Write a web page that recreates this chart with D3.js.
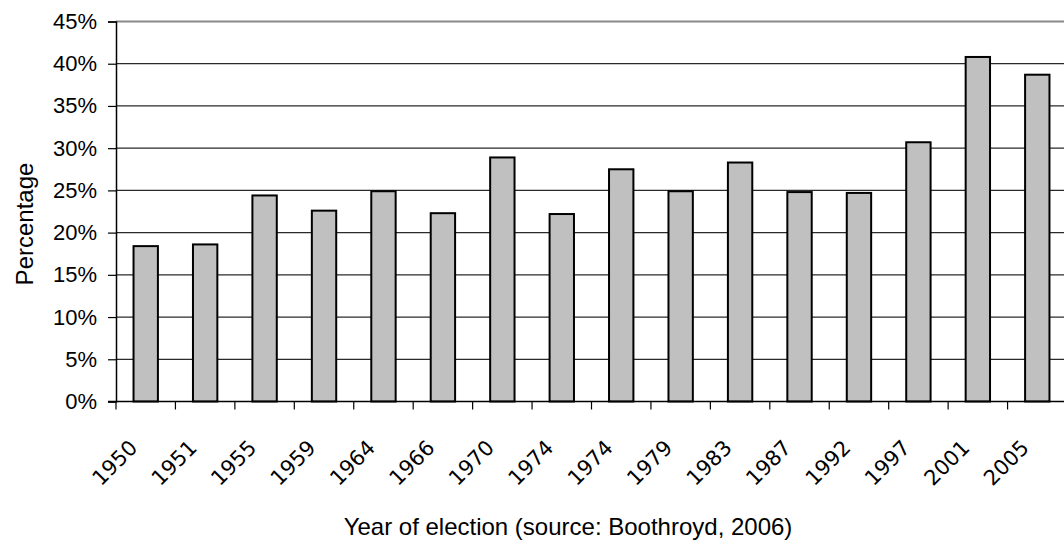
<!DOCTYPE html>
<html>
<head>
<meta charset="utf-8">
<script src="https://cdn.jsdelivr.net/npm/d3@7"></script>
<style>
  html, body { margin: 0; padding: 0; background: #fff; }
  svg { display: block; }
</style>
</head>
<body>
<svg id="chart" width="1064" height="548"></svg>
<script>
// Election years (1974 appears twice: February and October elections)
const years = ["1950", "1951", "1955", "1959", "1964", "1966", "1970", "1974",
               "1974", "1979", "1983", "1987", "1992", "1997", "2001", "2005"];
// Share, in percent, for each election
const shares = [18.4, 18.6, 24.4, 22.6, 24.9, 22.3, 28.9, 22.2,
                27.5, 24.9, 28.3, 24.8, 24.7, 30.7, 40.8, 38.7];
// Value axis ticks, in percent
const yTicks = [0, 5, 10, 15, 20, 25, 30, 35, 40, 45];

const svg = d3.select("#chart");
const W = 1064, H = 548;
const plot = { left: 116, right: 1067, top: 21.5, bottom: 401.5 };

const x = d3.scaleBand()
  .domain(d3.range(years.length))
  .range([plot.left, plot.right])
  .paddingInner(0.59)
  .paddingOuter(0.295);

// width of one category slot, used for the boundary tick marks
const step = (plot.right - plot.left) / years.length;

const y = d3.scaleLinear()
  .domain([0, 45])
  .range([plot.bottom, plot.top]);

// horizontal gridlines
svg.append("g")
  .selectAll("line")
  .data(yTicks.filter(t => t > 0))
  .join("line")
  .attr("x1", plot.left)
  .attr("x2", W)
  .attr("y1", d => y(d))
  .attr("y2", d => y(d))
  .attr("stroke", d => d === 45 ? "#8a8a8a" : "#2a2a2a")
  .attr("stroke-width", d => d === 45 ? 2 : 1.2);

// bars
svg.append("g")
  .selectAll("rect")
  .data(shares)
  .join("rect")
  .attr("x", (d, i) => x(i))
  .attr("width", x.bandwidth())
  .attr("y", d => y(d))
  .attr("height", d => y(0) - y(d))
  .attr("fill", "#c0c0c0")
  .attr("stroke", "#000")
  .attr("stroke-width", 2);

// y axis
const yAxis = d3.axisLeft(y)
  .tickValues(yTicks)
  .tickSize(8)
  .tickPadding(11)
  .tickFormat(d => d + "%");

const gy = svg.append("g")
  .attr("transform", `translate(${plot.left},0)`)
  .call(yAxis);
gy.select(".domain").attr("stroke", "#000").attr("stroke-width", 1.5);
gy.selectAll(".tick line").attr("stroke", "#000").attr("stroke-width", 1.2);
gy.selectAll(".tick text")
  .attr("font-family", "'Liberation Sans', Arial, sans-serif")
  .attr("font-size", 22)
  .attr("fill", "#000");

// x axis baseline and category boundary ticks
const gx = svg.append("g");
gx.append("line")
  .attr("x1", plot.left - 8).attr("x2", W)
  .attr("y1", plot.bottom).attr("y2", plot.bottom)
  .attr("stroke", "#000").attr("stroke-width", 1.5);
gx.selectAll("line.tick")
  .data(d3.range(years.length + 1))
  .join("line")
  .attr("class", "tick")
  .attr("x1", i => plot.left + i * step)
  .attr("x2", i => plot.left + i * step)
  .attr("y1", plot.bottom)
  .attr("y2", plot.bottom + 8)
  .attr("stroke", "#000").attr("stroke-width", 1.2);

// rotated year labels
gx.selectAll("text")
  .data(years)
  .join("text")
  .attr("transform", (d, i) => `translate(${x(i) + x.bandwidth() / 2 - 7},449) rotate(-45)`)
  .attr("text-anchor", "end")
  .attr("font-family", "'DejaVu Sans', Verdana, sans-serif")
  .attr("font-size", 21)
  .attr("fill", "#000")
  .text(d => d);

// axis titles
svg.append("text")
  .attr("x", 568)
  .attr("y", 535)
  .attr("text-anchor", "middle")
  .attr("font-family", "'Liberation Sans', Arial, sans-serif")
  .attr("font-size", 24)
  .attr("fill", "#000")
  .text("Year of election (source: Boothroyd, 2006)");

svg.append("text")
  .attr("transform", "translate(33,224) rotate(-90)")
  .attr("text-anchor", "middle")
  .attr("font-family", "'Liberation Sans', Arial, sans-serif")
  .attr("font-size", 24)
  .attr("fill", "#000")
  .text("Percentage");
</script>
</body>
</html>
